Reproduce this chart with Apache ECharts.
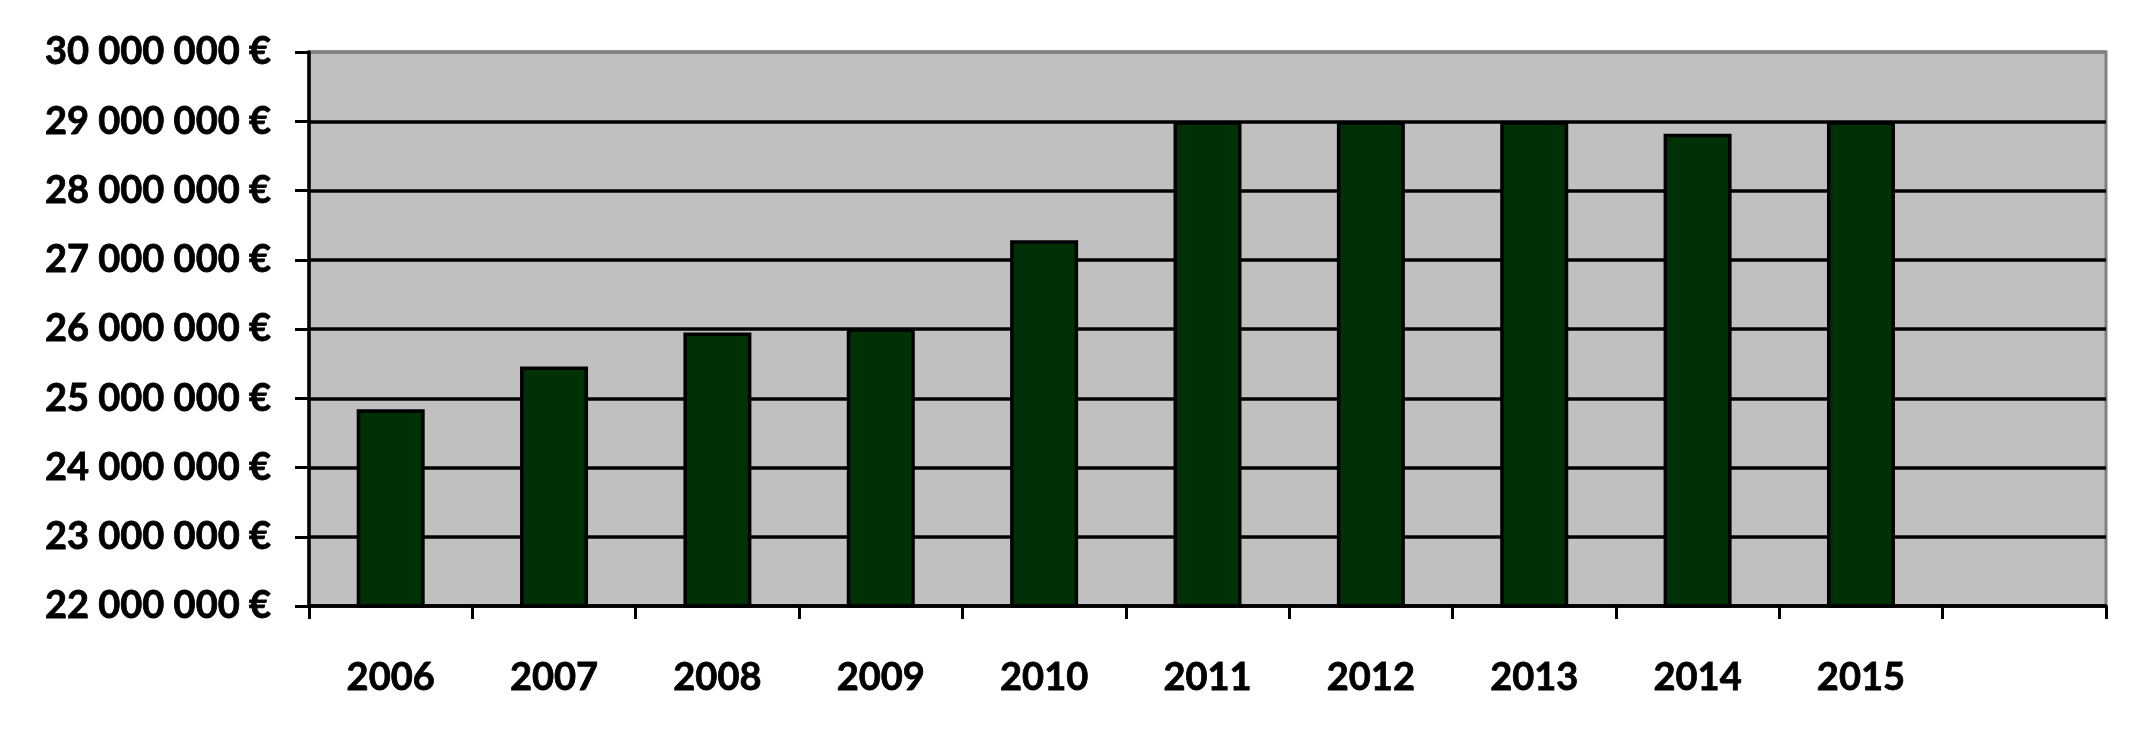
<!DOCTYPE html>
<html><head><meta charset="utf-8">
<script src="https://cdn.jsdelivr.net/npm/echarts@6/dist/echarts.min.js"></script>
<style>html,body{margin:0;padding:0;background:#fff}#c{width:2151px;height:733px}</style>
</head><body><div id="c"></div>
<script>
const years = ['2006','2007','2008','2009','2010','2011','2012','2013','2014','2015',''];
const values = [24840000, 25460000, 25950000, 26010000, 27280000, 29000000, 29000000, 29000000, 28820000, 29000000, null];
const yMin = 22000000, yMax = 30000000, yStep = 1000000;
const yTickLabels = ['22 000 000 €','23 000 000 €','24 000 000 €','25 000 000 €','26 000 000 €','27 000 000 €','28 000 000 €','29 000 000 €','30 000 000 €'];

const chart = echarts.init(document.getElementById('c'));
const font = 'Lato, "Open Sans", sans-serif';
const txt = {color: '#000', fontWeight: 'bold', fontSize: 38, fontFamily: font, textBorderColor: '#000', textBorderWidth: 0.8};
chart.setOption({
  animation: false,
  grid: {left: 309, right: 45, top: 52, bottom: 127, show: true, backgroundColor: '#C0C0C0', borderColor: '#808080', borderWidth: 3},
  xAxis: {
    type: 'category', data: years, boundaryGap: true,
    axisLine: {lineStyle: {color: '#000', width: 3.5}},
    axisTick: {show: true, interval: 0, alignWithLabel: false, length: 13, lineStyle: {color: '#000', width: 3}},
    axisLabel: Object.assign({interval: 0, margin: 53}, txt)
  },
  yAxis: {
    type: 'value', min: yMin, max: yMax, interval: yStep,
    axisLine: {show: true, lineStyle: {color: '#000', width: 3.5}},
    axisTick: {show: true, length: 14, lineStyle: {color: '#000', width: 3}},
    splitLine: {show: true, lineStyle: {color: ['#000','#000','#000','#000','#000','#000','#000','#000','#808080'], width: 3.5}},
    axisLabel: Object.assign({margin: 38, formatter: v => yTickLabels[Math.round((v - yMin) / yStep)]}, txt)
  },
  series: [{
    type: 'bar', data: values, barWidth: 68,
    itemStyle: {color: '#003005', borderColor: '#000', borderWidth: 3.5}
  }]
});
</script></body></html>
